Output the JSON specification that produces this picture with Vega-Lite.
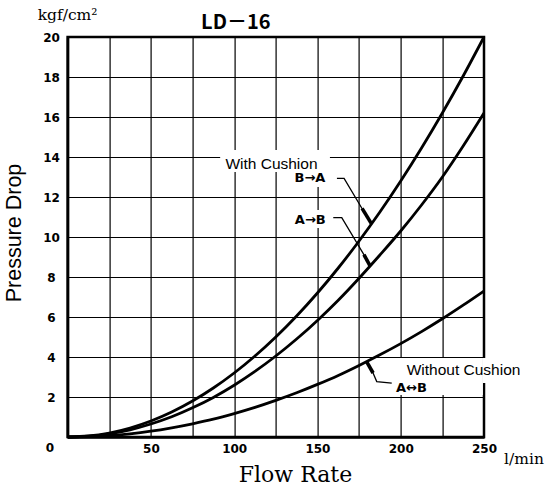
{
  "$schema": "https://vega.github.io/schema/vega-lite/v6.json",
  "width": 416.4,
  "height": 400,
  "autosize": {"type": "none"},
  "padding": {"left": 67.6, "top": 37, "right": 68, "bottom": 51},
  "background": "white",
  "config": {"view": {"stroke": "#000", "strokeWidth": 2.5}},
  "title": {"text": "LD－16", "font": "Noto Sans CJK JP", "fontSize": 20, "fontWeight": "bold", "color": "#000", "anchor": "middle", "frame": "group", "dx": -40, "dy": 52, "offset": 11, "baseline": "alphabetic"},
  "datasets": {
    "curves": [
      {"series": "B→A", "q": 0, "p": 0}, {"series": "B→A", "q": 12.5, "p": 0.05}, {"series": "B→A", "q": 25, "p": 0.2}, {"series": "B→A", "q": 37.5, "p": 0.45}, {"series": "B→A", "q": 50, "p": 0.8}, {"series": "B→A", "q": 62.5, "p": 1.25}, {"series": "B→A", "q": 75, "p": 1.8}, {"series": "B→A", "q": 87.5, "p": 2.45}, {"series": "B→A", "q": 100, "p": 3.2}, {"series": "B→A", "q": 112.5, "p": 4.05}, {"series": "B→A", "q": 125, "p": 5.0}, {"series": "B→A", "q": 137.5, "p": 6.05}, {"series": "B→A", "q": 150, "p": 7.2}, {"series": "B→A", "q": 162.5, "p": 8.45}, {"series": "B→A", "q": 175, "p": 9.8}, {"series": "B→A", "q": 187.5, "p": 11.25}, {"series": "B→A", "q": 200, "p": 12.8}, {"series": "B→A", "q": 212.5, "p": 14.45}, {"series": "B→A", "q": 225, "p": 16.2}, {"series": "B→A", "q": 237.5, "p": 18.05}, {"series": "B→A", "q": 250, "p": 20},
      {"series": "A→B", "q": 0, "p": 0}, {"series": "A→B", "q": 12.5, "p": 0.04}, {"series": "A→B", "q": 25, "p": 0.16}, {"series": "A→B", "q": 37.5, "p": 0.36}, {"series": "A→B", "q": 50, "p": 0.65}, {"series": "A→B", "q": 62.5, "p": 1.01}, {"series": "A→B", "q": 75, "p": 1.46}, {"series": "A→B", "q": 87.5, "p": 1.98}, {"series": "A→B", "q": 100, "p": 2.59}, {"series": "A→B", "q": 112.5, "p": 3.28}, {"series": "A→B", "q": 125, "p": 4.05}, {"series": "A→B", "q": 137.5, "p": 4.9}, {"series": "A→B", "q": 150, "p": 5.83}, {"series": "A→B", "q": 162.5, "p": 6.84}, {"series": "A→B", "q": 175, "p": 7.94}, {"series": "A→B", "q": 187.5, "p": 9.1}, {"series": "A→B", "q": 200, "p": 10.3}, {"series": "A→B", "q": 212.5, "p": 11.6}, {"series": "A→B", "q": 225, "p": 13.0}, {"series": "A→B", "q": 237.5, "p": 14.55}, {"series": "A→B", "q": 250, "p": 16.2},
      {"series": "A↔B", "q": 0, "p": 0}, {"series": "A↔B", "q": 12.5, "p": 0.02}, {"series": "A↔B", "q": 25, "p": 0.07}, {"series": "A↔B", "q": 37.5, "p": 0.16}, {"series": "A↔B", "q": 50, "p": 0.29}, {"series": "A↔B", "q": 62.5, "p": 0.46}, {"series": "A↔B", "q": 75, "p": 0.66}, {"series": "A↔B", "q": 87.5, "p": 0.89}, {"series": "A↔B", "q": 100, "p": 1.17}, {"series": "A↔B", "q": 112.5, "p": 1.48}, {"series": "A↔B", "q": 125, "p": 1.83}, {"series": "A↔B", "q": 137.5, "p": 2.21}, {"series": "A↔B", "q": 150, "p": 2.63}, {"series": "A↔B", "q": 162.5, "p": 3.08}, {"series": "A↔B", "q": 175, "p": 3.58}, {"series": "A↔B", "q": 187.5, "p": 4.11}, {"series": "A↔B", "q": 200, "p": 4.67}, {"series": "A↔B", "q": 212.5, "p": 5.27}, {"series": "A↔B", "q": 225, "p": 5.91}, {"series": "A↔B", "q": 237.5, "p": 6.59}, {"series": "A↔B", "q": 250, "p": 7.3}
    ],
    "leaders": [
      {"id": "ba", "part": "thin", "q": 161.7, "p": 12.93}, {"id": "ba", "part": "thin", "q": 166.0, "p": 12.93}, {"id": "ba", "part": "thin", "q": 177.3, "p": 11.35},
      {"id": "ba", "part": "tip", "q": 176.8, "p": 11.43}, {"id": "ba", "part": "tip", "q": 182.3, "p": 10.68},
      {"id": "ab", "part": "thin", "q": 159.5, "p": 10.97}, {"id": "ab", "part": "thin", "q": 164.6, "p": 10.97}, {"id": "ab", "part": "thin", "q": 178.6, "p": 9.02},
      {"id": "ab", "part": "tip", "q": 177.9, "p": 9.12}, {"id": "ab", "part": "tip", "q": 181.6, "p": 8.56},
      {"id": "wo", "part": "tip", "q": 179.6, "p": 3.76}, {"id": "wo", "part": "tip", "q": 183.4, "p": 3.2},
      {"id": "wo", "part": "thin", "q": 183.0, "p": 3.27}, {"id": "wo", "part": "thin", "q": 185.6, "p": 2.77}, {"id": "wo", "part": "thin", "q": 194.6, "p": 2.69}
    ],
    "boxes": [
      {"q": 91.6, "q2": 157.5, "p": 14.35, "p2": 13.25},
      {"q": 132.3, "q2": 158.7, "p": 13.35, "p2": 12.5},
      {"q": 132.3, "q2": 158.7, "p": 11.35, "p2": 10.45},
      {"q": 196.6, "q2": 249.3, "p": 3.95, "p2": 2.1},
      {"q": 249.3, "q2": 274.6, "p": 3.95, "p2": 2.7}
    ],
    "notes": [
      {"q": 122.4, "p": 13.65, "label": "With Cushion"},
      {"q": 237.7, "p": 3.35, "label": "Without Cushion"}
    ],
    "dirs": [
      {"q": 145.5, "p": 12.93, "label": "B→A"},
      {"q": 145.7, "p": 10.85, "label": "A→B"},
      {"q": 206.5, "p": 2.45, "label": "A↔B"}
    ],
    "units": [
      {"q": 0, "p": 20.83, "label": "kgf/cm²"},
      {"q": 274, "p": -1.35, "label": "l/min"}
    ],
    "corner": [
      {"q": -10.6, "p": -0.55, "label": "0"}
    ]
  },
  "encoding": {
    "x": {
      "field": "q", "type": "quantitative",
      "scale": {"domain": [0, 250], "nice": false, "zero": false},
      "axis": {
        "values": [0, 25, 50, 75, 100, 125, 150, 175, 200, 225, 250],
        "labelExpr": "datum.value % 50 === 0 && datum.value > 0 ? datum.label : ''",
        "labelOverlap": false, "labelFlush": false,
        "title": "Flow Rate", "grid": true, "gridColor": "#000", "gridWidth": 1.2,
        "ticks": false, "tickSize": 0, "labelPadding": 6,
        "labelFont": "DejaVu Sans", "labelFontWeight": "bold", "labelFontSize": 12, "labelColor": "#000",
        "domainColor": "#000", "domainWidth": 2.5,
        "titleFont": "DejaVu Serif", "titleFontSize": 22, "titleFontWeight": "normal", "titleColor": "#000",
        "titleX": 227.4, "titleY": 44.7, "titleAlign": "center", "titleBaseline": "alphabetic"
      }
    },
    "y": {
      "field": "p", "type": "quantitative",
      "scale": {"domain": [0, 20], "nice": false},
      "axis": {
        "values": [0, 2, 4, 6, 8, 10, 12, 14, 16, 18, 20],
        "labelExpr": "datum.value > 0 ? datum.label : ''",
        "labelOverlap": false, "labelFlush": false,
        "title": "Pressure Drop", "grid": true, "gridColor": "#000", "gridWidth": 1.2,
        "ticks": false, "tickSize": 0, "labelPadding": 16.6, "labelAlign": "center",
        "labelFont": "DejaVu Sans", "labelFontWeight": "bold", "labelFontSize": 12, "labelColor": "#000",
        "domainColor": "#000", "domainWidth": 2.5,
        "titleFont": "Liberation Sans", "titleFontSize": 21.5, "titleFontWeight": "normal", "titleColor": "#000",
        "titleAngle": 270, "titleX": -46.9, "titleY": 195.5, "titleAlign": "center", "titleBaseline": "alphabetic"
      }
    }
  },
  "layer": [
    {
      "data": {"name": "boxes"},
      "mark": {"type": "rect", "fill": "white", "strokeWidth": 0},
      "encoding": {"x2": {"field": "q2"}, "y2": {"field": "p2"}}
    },
    {
      "data": {"name": "curves"},
      "mark": {"type": "line", "color": "#000", "strokeWidth": 2.8, "interpolate": "monotone"},
      "encoding": {"detail": {"field": "series", "type": "nominal"}}
    },
    {
      "data": {"name": "leaders"},
      "mark": {"type": "line", "color": "#000", "strokeCap": "butt"},
      "encoding": {
        "detail": {"field": "id", "type": "nominal"},
        "strokeWidth": {"field": "part", "type": "nominal", "scale": {"domain": ["thin", "tip"], "range": [1.3, 3.6]}, "legend": null}
      }
    },
    {
      "data": {"name": "notes"},
      "mark": {"type": "text", "font": "Liberation Sans", "fontSize": 15.5, "color": "#000", "align": "center", "baseline": "middle"},
      "encoding": {"text": {"field": "label"}}
    },
    {
      "data": {"name": "dirs"},
      "mark": {"type": "text", "font": "DejaVu Sans", "fontWeight": "bold", "fontSize": 13, "color": "#000", "align": "center", "baseline": "middle"},
      "encoding": {"text": {"field": "label"}}
    },
    {
      "data": {"name": "units"},
      "mark": {"type": "text", "font": "DejaVu Serif", "fontSize": 15.5, "color": "#000", "align": "center", "baseline": "alphabetic"},
      "encoding": {"text": {"field": "label"}}
    },
    {
      "data": {"name": "corner"},
      "mark": {"type": "text", "font": "DejaVu Sans", "fontWeight": "bold", "fontSize": 12, "color": "#000", "align": "center", "baseline": "middle"},
      "encoding": {"text": {"field": "label"}}
    }
  ]
}
